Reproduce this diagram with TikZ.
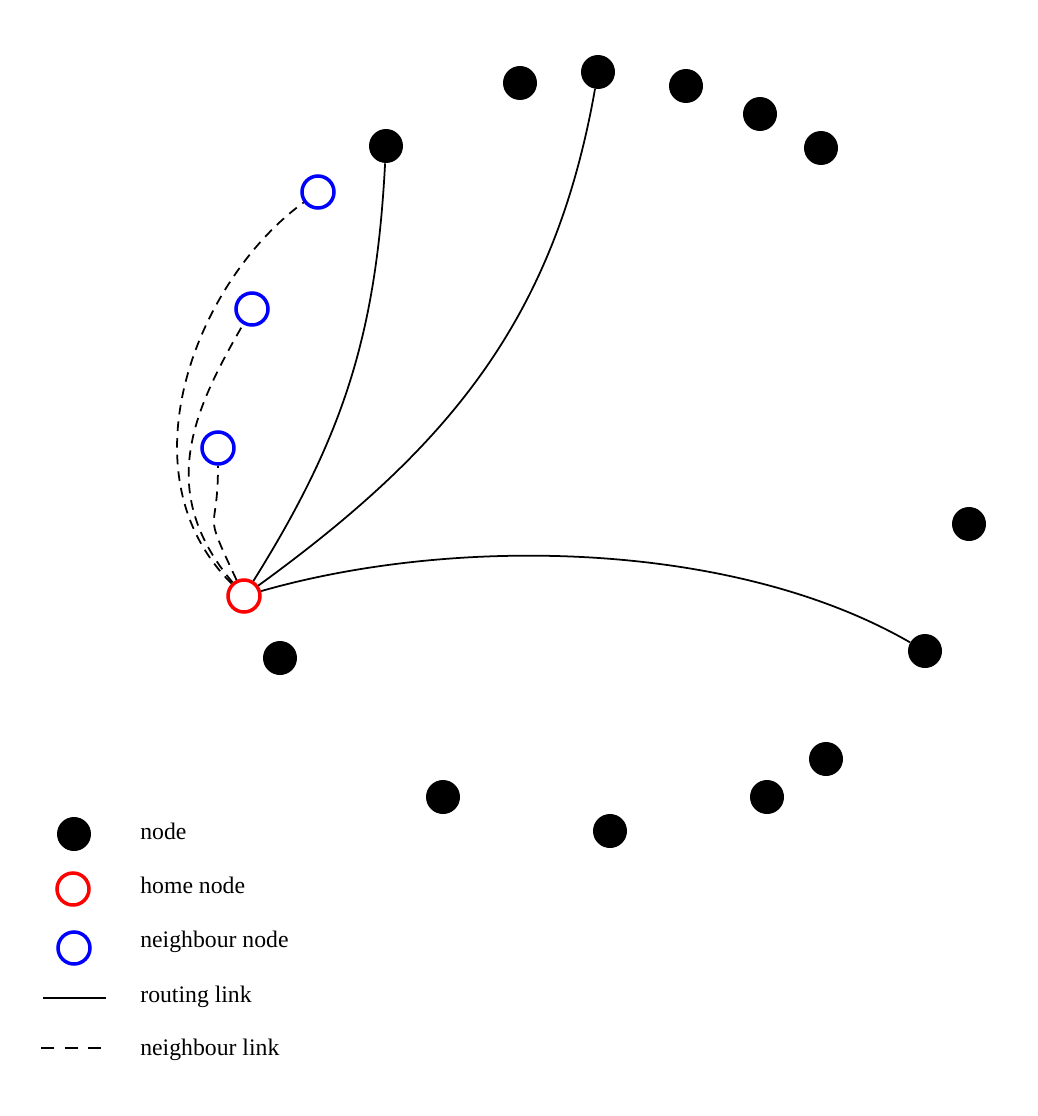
\documentclass[tikz,border=0pt]{standalone}
\usepackage{fontspec}
\setmainfont{Liberation Serif}
\usepackage{tikz}

\begin{document}
\begin{tikzpicture}[x=0.02cm,y=-0.02cm,
  peer/.style={circle,fill=black,inner sep=0pt,minimum size=0.68cm},
  home/.style={circle,draw=red,line width=2pt,inner sep=0pt,minimum size=0.64cm},
  nbr/.style={circle,draw=blue,line width=2pt,inner sep=0pt,minimum size=0.64cm},
  route/.style={line width=1pt},
  nbrlink/.style={line width=1pt,dash pattern=on 5.5pt off 4pt},
  txt/.style={anchor=base west,inner sep=0pt,font=\fontsize{13.5}{16}\selectfont}]
  \useasboundingbox (0,0) rectangle (1038,1116);
  \node [peer] (n1) at (386,146) {};
  \node [peer] (n2) at (520,83) {};
  \node [peer] (n3) at (598,72) {};
  \node [peer] (n4) at (686,86) {};
  \node [peer] (n5) at (760,114) {};
  \node [peer] (n6) at (821,148) {};
  \node [peer] (n7) at (969,524) {};
  \node [peer] (n8) at (925,651) {};
  \node [peer] (n9) at (826,759) {};
  \node [peer] (n10) at (767,797) {};
  \node [peer] (n11) at (610,831) {};
  \node [peer] (n12) at (443,797) {};
  \node [peer] (n13) at (280,658) {};
  \node [home] (h) at (244,596) {};
  \node [nbr] (b1) at (318,192) {};
  \node [nbr] (b2) at (252,309) {};
  \node [nbr] (b3) at (218,448) {};
  \draw [route] (h) to[out=58,in=267] (n1);
  \draw [route] (h) to[out=36,in=260] (n3);
  \draw [route] (h) to[out=16,in=150,looseness=0.8] (n8);
  \draw [nbrlink] (h) to[out=135,in=216,out distance=90pt,in distance=74pt] (b1);
  \draw [nbrlink] (h) to[out=130,in=240,out distance=68pt,in distance=57pt] (b2);
  \draw [nbrlink] (h) to[out=115,in=270,out distance=48pt,in distance=42pt] (b3);
  % legend
  \node [peer] (k1) at (74,834) {};
  \node [home] (k2) at (73,889) {};
  \node [nbr] (k3) at (74,948) {};
  \coordinate (r0) at (43,998);
  \coordinate (r1) at (106,998);
  \coordinate (d0) at (41,1048);
  \coordinate (d1) at (102,1048);
  \draw [route] (r0) -- (r1);
  \draw [nbrlink,dash pattern=on 7.3pt off 6.2pt] (d0) -- (d1);
  \node [txt] (t1) at (140,839) {node};
  \node [txt] (t2) at (140,893) {home node};
  \node [txt] (t3) at (140,947) {neighbour node};
  \node [txt] (t4) at (140,1002) {routing link};
  \node [txt] (t5) at (140,1055) {neighbour link};
\end{tikzpicture}
\end{document}
